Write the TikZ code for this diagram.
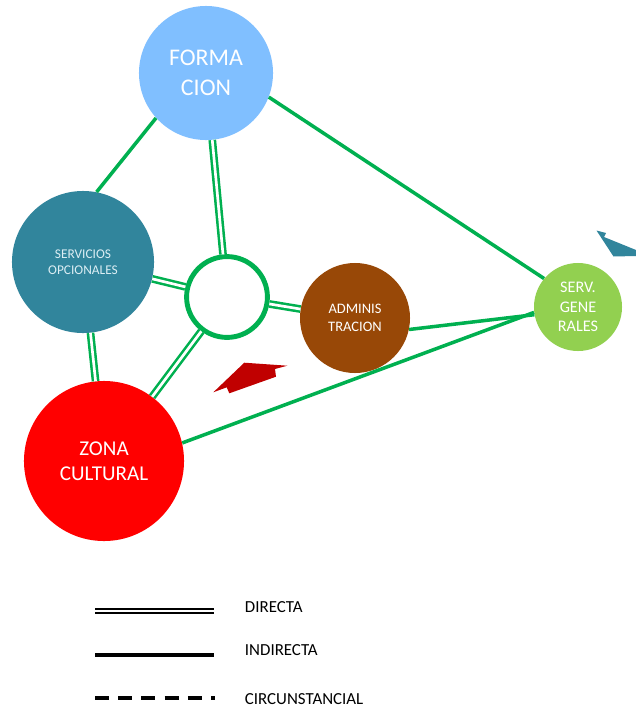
\documentclass[tikz,border=0pt]{standalone}
\usepackage{fontspec}
\setmainfont{Carlito}
\usepackage{xcolor}
\definecolor{linkgreen}{RGB}{0,176,80}
\definecolor{formblue}{RGB}{128,191,255}
\definecolor{opteal}{RGB}{49,133,156}
\definecolor{adminbrown}{RGB}{152,72,7}
\definecolor{genlime}{RGB}{146,208,80}
\definecolor{zonared}{RGB}{255,0,0}
\definecolor{arrowred}{RGB}{192,0,0}
\definecolor{softtext}{RGB}{220,238,244}

\begin{document}
\begin{tikzpicture}[x=0.025cm, y=-0.025cm,
  area/.style={circle, inner sep=0pt, text=white, align=center},
  direct/.style={draw=linkgreen, double=white, line width=1.8pt, double distance=1.9pt},
  indirect/.style={draw=linkgreen, line width=2.5pt},
  legtext/.style={anchor=west, text=black, font=\fontsize{12}{14}\selectfont}]
  \useasboundingbox (0,0) rectangle (636,710);
  \fill[white] (0,0) rectangle (636,710);

  % areas
  \node[area, fill=formblue, minimum size=3.35cm, font=\fontsize{17}{21}\selectfont] (formacion) at (206,73) {FORMA\\CION};
  \node[area, fill=opteal, minimum size=3.55cm, text=softtext, font=\fontsize{9.5}{11.3}\selectfont] (servop) at (83,262) {SERVICIOS\\OPCIONALES};
  \node[circle, draw=linkgreen, line width=3.5pt, fill=white, minimum size=2.02cm, inner sep=0pt] (nucleo) at (227,297) {};
  \node[area, fill=adminbrown, minimum size=2.75cm, font=\fontsize{10.3}{12.8}\selectfont] (admin) at (355,318) {ADMINIS\\TRACION};
  \node[area, fill=genlime, minimum size=2.2cm, font=\fontsize{11.5}{14}\selectfont] (servgen) at (578,307) {SERV.\\GENE\\RALES};
  \node[area, fill=zonared, minimum size=4.0cm, font=\fontsize{15}{18}\selectfont] (zona) at (104,461) {ZONA\\CULTURAL};

  % relaciones directas
  \draw[direct] (formacion) -- (nucleo);
  \draw[direct] (servop) -- (nucleo);
  \draw[direct] (servop) -- (zona);
  \draw[direct] (nucleo) -- (zona);
  \draw[direct] (nucleo) -- (admin);

  % relaciones indirectas
  \draw[indirect] (formacion.222) -- (servop.79);
  \draw[indirect] (formacion.339) -- (servgen.140);
  \draw[indirect] (admin.-12) -- (servgen.190);
  \draw[indirect] (zona.13) -- (servgen.187);

  % flechas
  \fill[arrowred] (244.3,362.7) -- (287.3,365.7) -- (275,369) -- (276,376.7) -- (229.3,393.3) -- (226.7,387.3) -- (213.3,392.3) -- cycle;
  \fill[opteal] (596.5,230.5) -- (606,233) -- (604,237) -- (636,250) -- (636,256) -- (613.5,256.5) -- cycle;

  % leyenda
  \draw[black, double=white, line width=1.6pt, double distance=1.4pt] (95,611) -- (214,611);
  \node[legtext] (ldirecta) at (240,607) {DIRECTA};
  \draw[black, line width=2.3pt] (95,655) -- (214,655);
  \node[legtext] (lindirecta) at (240,650) {INDIRECTA};
  \draw[black, line width=2.3pt, dash pattern=on 10pt off 6.5pt] (95,698) -- (215,698);
  \node[legtext] (lcircun) at (240,699) {CIRCUNSTANCIAL};
\end{tikzpicture}
\end{document}
